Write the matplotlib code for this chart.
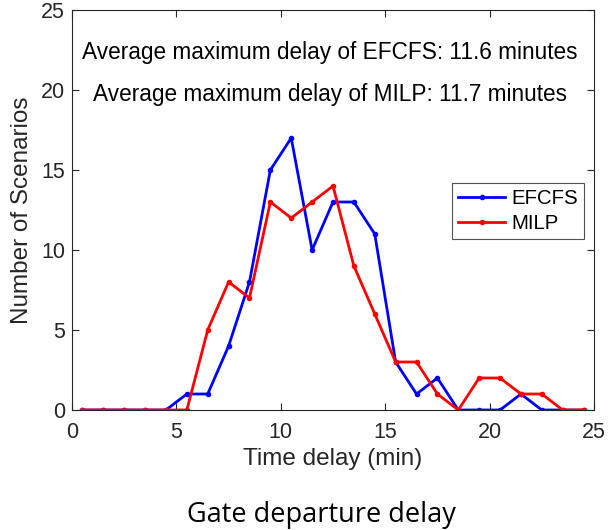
import matplotlib
matplotlib.use("Agg")
import matplotlib.pyplot as plt

x = [0.5 + i for i in range(25)]
efcfs = [0, 0, 0, 0, 0, 1, 1, 4, 8, 15, 17, 10, 13, 13, 11, 3, 1, 2, 0, 0, 0, 1, 0, 0, 0]
milp = [0, 0, 0, 0, 0, 0, 5, 8, 7, 13, 12, 13, 14, 9, 6, 3, 3, 1, 0, 2, 2, 1, 1, 0, 0]
xticks = [0, 5, 10, 15, 20, 25]
yticks = [0, 5, 10, 15, 20, 25]

plt.rcParams['font.family'] = ['Liberation Sans', 'DejaVu Sans']
fig = plt.figure(figsize=(6.08, 5.30), dpi=100)
ax = fig.add_axes([72 / 608, 1 - 410 / 530, (594 - 72) / 608, 400 / 530])

ax.plot(x, efcfs, color='#0000ff', lw=2, marker='o', ms=3, label='EFCFS')
ax.plot(x, milp, color='#ff0000', lw=2, marker='o', ms=3, label='MILP')

ax.set_xlim(0, 25)
ax.set_ylim(0, 25)
ax.set_xticks(xticks)
ax.set_yticks(yticks)
ax.tick_params(direction='in', top=True, right=True, labelsize=15.5, colors='#262626', length=5)
ax.tick_params(axis='x', pad=9)
ax.tick_params(axis='y', pad=5)
for s in ax.spines.values():
    s.set_color('#262626')
    s.set_linewidth(0.8)

ax.set_xlabel('Time delay (min)', fontsize=17.5, color='#262626', labelpad=3)
ax.set_ylabel('Number of Scenarios', fontsize=17.5, color='#262626', labelpad=6)

ax.text(12.35, 22.35, 'Average maximum delay of EFCFS: 11.6 minutes', ha='center', va='center', fontsize=16.3)
ax.text(12.35, 19.7, 'Average maximum delay of MILP: 11.7 minutes', ha='center', va='center', fontsize=16.3)

leg = ax.legend(loc='upper left', bbox_to_anchor=((452 - 72) / 522, (410 - 183) / 400),
                fontsize=14.7, frameon=True, fancybox=False, edgecolor='#262626',
                borderpad=0.3, handlelength=2.3, labelspacing=0.3, handletextpad=0.3,
                borderaxespad=0)
leg.get_frame().set_linewidth(0.8)

fig.text(321 / 608, 1 - 515 / 530, 'Gate departure delay', ha='center', va='center',
         fontsize=19.5, family=['Open Sans', 'DejaVu Sans'])

fig.savefig('out.png', dpi=100)
